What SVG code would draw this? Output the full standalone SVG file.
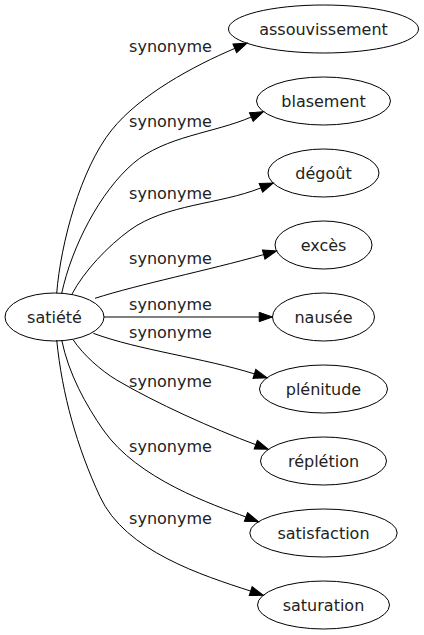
<svg xmlns="http://www.w3.org/2000/svg" width="424" height="635" viewBox="0 0 424 635">
<style>
.node ellipse{fill:none;stroke:#000;stroke-width:1}
.node text{font-family:"DejaVu Sans",sans-serif;font-size:16px;fill:#222;text-anchor:middle}
.edge path{fill:none;stroke:#000;stroke-width:1;marker-end:url(#arr)}
.lbl{font-family:"DejaVu Sans",sans-serif;font-size:16px;fill:#222;text-anchor:middle}
</style>
<defs>
<marker id="arr" markerUnits="userSpaceOnUse" viewBox="0 0 13.3 9.34" refX="0" refY="4.67" markerWidth="13.3" markerHeight="9.34" orient="auto" overflow="visible">
<path d="M0,0 L13.3,4.67 L0,9.34 Z" fill="#000" stroke="#000" stroke-width="1"/>
</marker>
</defs>
<rect width="424" height="635" fill="#fff"/>
<g id="connectors">
<g class="edge" id="e1"><path d="M56.7,293.3 C60.7,243.3 80.5,169 111.7,130 C139.8,94.9 193.4,66 234.8,48.4"/></g>
<g class="edge" id="e2"><path d="M61.7,293.3 C72,246 100,192 133.3,163.3 C165,136 214.5,133 251.3,117"/></g>
<g class="edge" id="e3"><path d="M71.7,294.6 C84,271 108,246 130,230 C166,204 219,204.6 260.9,187.9"/></g>
<g class="edge" id="e4"><path d="M95,298.3 C140,284 206.1,270.8 263.7,254.6"/></g>
<g class="edge" id="e5"><path d="M104,317 L259.2,317"/></g>
<g class="edge" id="e6"><path d="M93.3,333.3 C138,350 204,358 254.4,373.9"/></g>
<g class="edge" id="e7"><path d="M73.3,340 C83.2,354.9 101.2,370.8 116.7,380 C155.4,403 213.5,429 255.8,444.7"/></g>
<g class="edge" id="e8"><path d="M61.7,340 C68.7,374.3 86.2,405.4 103.3,430 C137.5,479.2 213.1,504.8 246,517"/></g>
<g class="edge" id="e9"><path d="M56.7,340 C62.2,395 76.9,446.7 100,496.7 C125.2,551.3 203.2,575.6 250.7,591.1"/></g>
<text class="lbl" x="170.5" y="51.5">synonyme</text>
<text class="lbl" x="170.5" y="126.5">synonyme</text>
<text class="lbl" x="170.5" y="199">synonyme</text>
<text class="lbl" x="170.5" y="263.5">synonyme</text>
<text class="lbl" x="170.5" y="309.5">synonyme</text>
<text class="lbl" x="170.5" y="338">synonyme</text>
<text class="lbl" x="170.5" y="386.5">synonyme</text>
<text class="lbl" x="170.5" y="452">synonyme</text>
<text class="lbl" x="170.5" y="523.5">synonyme</text>
</g>
<g class="node" id="n-satiete"><ellipse cx="54.5" cy="317" rx="49.5" ry="24"/><text x="54.5" y="322.6">satiété</text></g>
<g class="node" id="n-assouvissement"><ellipse cx="323.5" cy="29" rx="95" ry="24"/><text x="323.5" y="34.6">assouvissement</text></g>
<g class="node" id="n-blasement"><ellipse cx="323.5" cy="101" rx="67" ry="24"/><text x="323.5" y="106.6">blasement</text></g>
<g class="node" id="n-degout"><ellipse cx="323.5" cy="173" rx="55.5" ry="24"/><text x="323.5" y="178.6">dégoût</text></g>
<g class="node" id="n-exces"><ellipse cx="323.5" cy="245" rx="48.5" ry="24"/><text x="323.5" y="250.6">excès</text></g>
<g class="node" id="n-nausee"><ellipse cx="323.5" cy="317" rx="51" ry="24"/><text x="323.5" y="322.6">nausée</text></g>
<g class="node" id="n-plenitude"><ellipse cx="323.5" cy="389" rx="64" ry="24"/><text x="323.5" y="394.6">plénitude</text></g>
<g class="node" id="n-repletion"><ellipse cx="323.5" cy="461" rx="63" ry="24"/><text x="323.5" y="466.6">réplétion</text></g>
<g class="node" id="n-satisfaction"><ellipse cx="323.5" cy="533" rx="73.7" ry="24"/><text x="323.5" y="538.6">satisfaction</text></g>
<g class="node" id="n-saturation"><ellipse cx="323.5" cy="605" rx="66" ry="24"/><text x="323.5" y="610.6">saturation</text></g>
</svg>
